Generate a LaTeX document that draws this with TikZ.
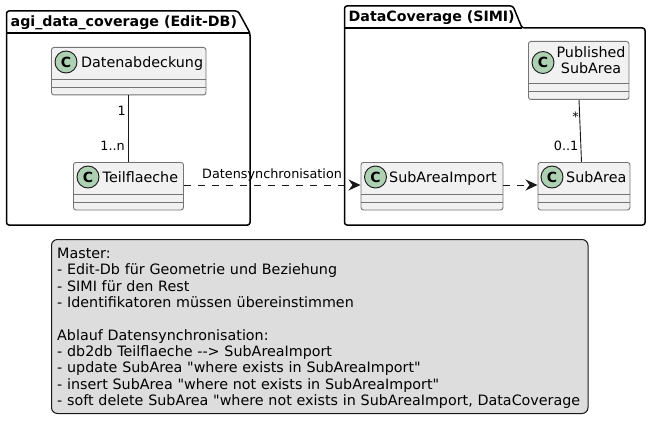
\documentclass[tikz,border=0pt]{standalone}
\usepackage{fontspec}
\setmainfont{DejaVu Sans}[Ligatures=TeXOff]
\usetikzlibrary{arrows.meta,calc}
\definecolor{ink}{HTML}{181818}
\definecolor{classfill}{HTML}{F1F1F1}
\definecolor{notefill}{HTML}{DDDDDD}
\definecolor{spot}{HTML}{ADD1B2}
\tikzset{
  pkgline/.style={draw=black,line width=1.5pt,rounded corners=2.5pt,fill=white},
  classbox/.style={draw=ink!60,line width=0.9pt,fill=classfill,rounded corners=2.5pt,inner sep=0pt,anchor=north west},
  sep/.style={draw=ink!60,line width=0.9pt},
  spotc/.style={circle,draw=ink,line width=0.9pt,fill=spot,minimum size=22pt,inner sep=0pt,font=\fontsize{14}{14}\selectfont\bfseries},
  cname/.style={font=\fontsize{14.3}{16.6}\selectfont,inner sep=0pt,align=center,text=black},
  pkgtitle/.style={font=\fontsize{14.2}{16}\selectfont\bfseries,inner sep=0pt,anchor=base west},
  mult/.style={font=\fontsize{12.8}{15}\selectfont,inner sep=0pt,text=black},
  link/.style={draw=ink,line width=0.9pt},
  syncline/.style={link,dash pattern=on 7pt off 7pt,-{Stealth[length=12pt,width=11pt,inset=4pt]}},
  notebox/.style={draw=ink,line width=1pt,fill=notefill,rounded corners=6pt,inner sep=0pt,anchor=north west},
  notetext/.style={font=\fontsize{14.3}{16.3}\selectfont,inner sep=0pt,align=left,anchor=north west,text width=530pt}
}
\newcommand{\umlclass}[5]{% name, x, y, w, h
  \node[classbox,minimum width=#4pt,minimum height=#5pt] (#1) at (#2,#3) {};
  \path[sep] ($(#1.south west)+(0,-16)$) -- ($(#1.south east)+(0,-16)$);
  \path[sep] ($(#1.south west)+(0,-8)$) -- ($(#1.south east)+(0,-8)$);
}
\begin{document}
\begin{tikzpicture}[x=1pt,y=-1pt]
\useasboundingbox (0,0) rectangle (651,428);
% packages
\path[pkgline] (6.5,33) -- (6.5,11) -- (238,11) -- (250,33) -- (250,225) -- (6.5,225) -- cycle;
\path[pkgline] (6.5,33) -- (250,33);
\node[pkgtitle] (pa) at (10.5,26.5) {agi\_data\_coverage (Edit-DB)};
\path[pkgline] (344.5,28) -- (344.5,6) -- (513,6) -- (522,28) -- (645,28) -- (645,225) -- (344.5,225) -- cycle;
\path[pkgline] (344.5,28) -- (522,28);
\node[pkgtitle] (pb) at (348.5,21.5) {DataCoverage (SIMI)};
% classes
\umlclass{daten}{51}{47}{154.5}{47.5}
\node[spotc] (sdaten) at (66,62) {C};
\node[cname,anchor=base west] (ldaten) at (81,67) {Datenabdeckung};
\umlclass{teil}{73}{162}{110}{47.5}
\node[spotc] (steil) at (88,177) {C};
\node[cname,anchor=base west] (lteil) at (102.5,182) {Teilflaeche};
\umlclass{pub}{528}{41}{100.5}{58}
\node[spotc] (spub) at (543,62.5) {C};
\node[cname,anchor=north] (lpub) at (591,46) {Published\\SubArea};
\umlclass{imp}{360.5}{162}{142}{47.5}
\node[spotc] (simp) at (375.5,177) {C};
\node[cname,anchor=base west] (limp) at (389,182) {SubAreaImport};
\umlclass{sub}{537.5}{162}{92}{47.5}
\node[spotc] (ssub) at (552,177) {C};
\node[cname,anchor=base west] (lsub) at (566,182) {SubArea};
% connectors
\coordinate (pubfoot) at ($(pub.south west)+(51,0)$);
\coordinate (subtop) at ($(sub.north west)+(44,0)$);
\coordinate (teiltop) at (teil.north -| daten.south);
\path[link] (daten.south) -- (teiltop);
\path[link] (pubfoot) -- (subtop);
\coordinate (teilout) at ($(teil.north east)+(0,23)$);
\coordinate (impin) at ($(imp.north west)+(0,23)$);
\coordinate (impout) at ($(imp.north east)+(0,23)$);
\coordinate (subin) at ($(sub.north west)+(0,23)$);
\path[syncline] (teilout) -- (impin);
\path[syncline] (impout) -- (subin);
% labels
\node[mult,anchor=base east] (m1) at (126,116) {1};
\node[mult,anchor=base east] (m2) at (125,150.5) {1..n};
\node[mult,anchor=base east] (m3) at (579,121.5) {*};
\node[mult,anchor=base east] (m4) at (578.5,150.5) {0..1};
\node[mult,anchor=base west] (m5) at (202,178.5) {Datensynchronisation};
% note
\node[notebox,minimum width=536.5pt,minimum height=174pt] (note) at (51,239) {};
\node[notetext] (notetxt) at (57,248) {Master:\\
- Edit-Db für Geometrie und Beziehung\\
- SIMI für den Rest\\
- Identifikatoren müssen übereinstimmen\\[16.3pt]
Ablauf Datensynchronisation:\\
- db2db Teilflaeche --> SubAreaImport\\
- update SubArea "where exists in SubAreaImport"\\
- insert SubArea "where not exists in SubAreaImport"\\
- soft delete SubArea "where not exists in SubAreaImport, DataCoverage};
\end{tikzpicture}
\end{document}
